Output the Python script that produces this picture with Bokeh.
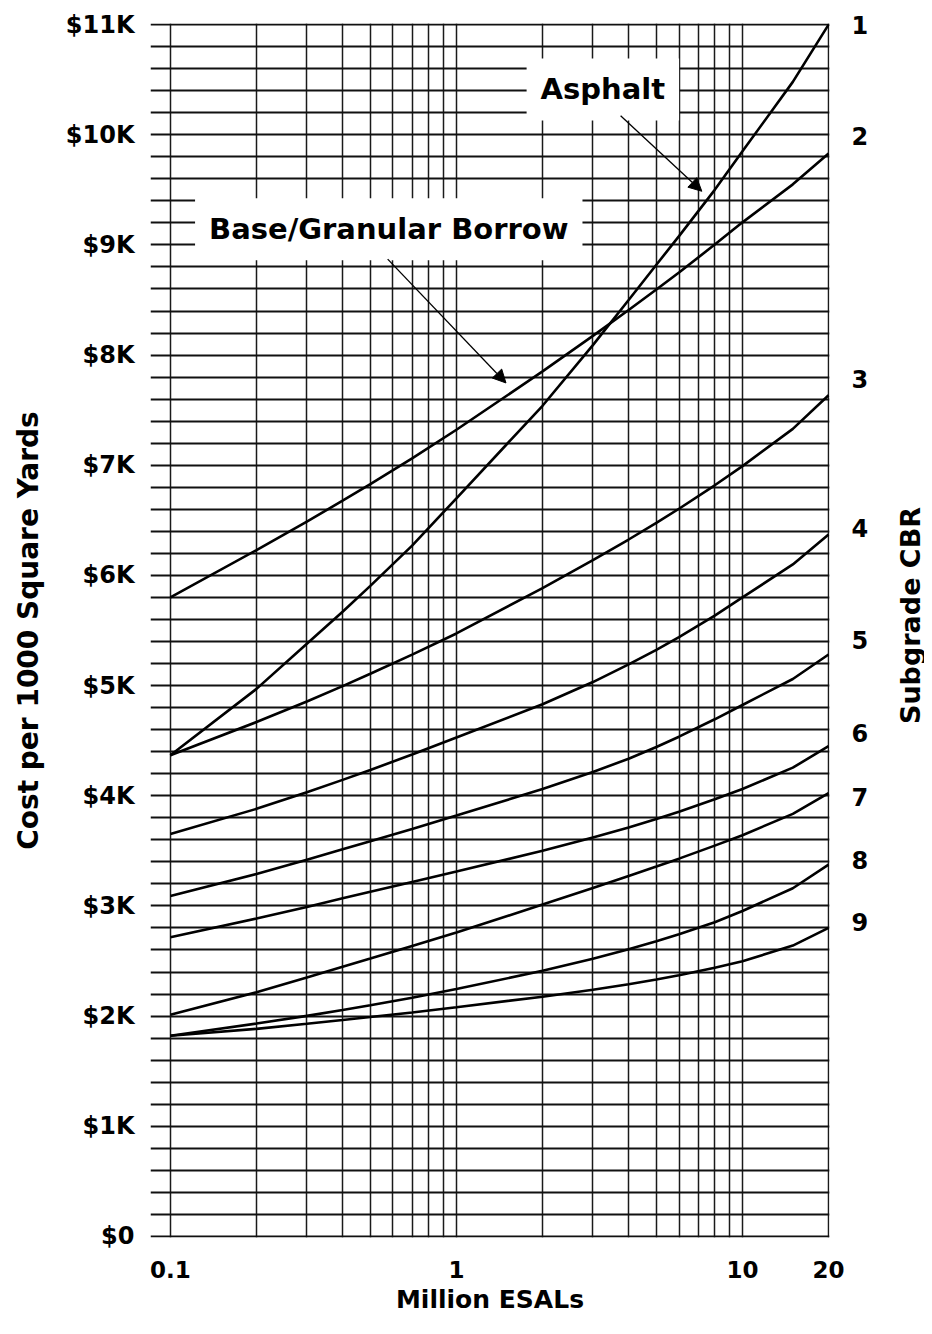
import math
from bokeh.plotting import figure
from bokeh.layouts import row
from bokeh.models import Range1d, FixedTicker, LinearAxis, Label, Arrow, NormalHead
from bokeh.embed import file_html
from bokeh.resources import INLINE

# ---------------- data ----------------
esals = [0.1, 0.2, 0.3, 0.4, 0.5, 0.7, 1, 2, 3, 4, 5, 6, 8, 10, 15, 20]

cbr1 = [4368, 4970, 5380, 5670, 5905, 6270, 6700, 7540, 8090, 8500, 8820, 9080, 9500, 9850, 10480, 11000]
cbr2 = [5800, 6230, 6489, 6678, 6828, 7062, 7322, 7852, 8174, 8409, 8595, 8750, 9003, 9205, 9550, 9830]
cbr3 = [4368, 4669, 4856, 4995, 5107, 5281, 5473, 5885, 6138, 6326, 6477, 6605, 6818, 6992, 7330, 7635]
cbr4 = [3652, 3881, 4031, 4144, 4234, 4374, 4529, 4830, 5032, 5192, 5325, 5440, 5635, 5800, 6100, 6372]
cbr5 = [3090, 3289, 3419, 3514, 3588, 3699, 3820, 4061, 4216, 4336, 4443, 4536, 4694, 4824, 5060, 5282]
cbr6 = [2716, 2885, 2991, 3069, 3129, 3218, 3313, 3500, 3620, 3712, 3789, 3855, 3968, 4061, 4255, 4450]
cbr7 = [2012, 2217, 2351, 2447, 2522, 2637, 2759, 3012, 3162, 3271, 3357, 3429, 3547, 3642, 3835, 4024]
cbr8 = [1821, 1932, 2002, 2055, 2098, 2167, 2245, 2411, 2520, 2606, 2679, 2742, 2852, 2954, 3160, 3375]
cbr9 = [1821, 1884, 1930, 1964, 1991, 2033, 2080, 2176, 2239, 2289, 2332, 2370, 2438, 2498, 2640, 2800]

y_ticks = [0, 1000, 2000, 3000, 4000, 5000, 6000, 7000, 8000, 9000, 10000, 11000]
y_tick_labels = ["$0", "$1K", "$2K", "$3K", "$4K", "$5K", "$6K", "$7K", "$8K", "$9K", "$10K", "$11K"]
y_minor_ticks = [v for v in range(0, 11001, 200) if v % 1000 != 0]

x_ticks = [0.1, 1, 10, 20]
x_tick_labels = ["0.1", "1", "10", "20"]
x_minor_ticks = [0.2, 0.3, 0.4, 0.5, 0.6, 0.7, 0.8, 0.9, 2, 3, 4, 5, 6, 7, 8, 9]

cbr_names = ["1", "2", "3", "4", "5", "6", "7", "8", "9"]
cbr_label_y = [11000, 9985, 7784, 6434, 5410, 4567, 3987, 3416, 2854]

FONT = "DejaVu Sans"
Y_RANGE = (-10, 11010)

p = figure(width=895, height=1318, x_axis_type="log",
           x_range=Range1d(0.0852, 20.15), y_range=Range1d(*Y_RANGE),
           output_backend="svg", toolbar_location=None,
           min_border_left=150, min_border_right=66,
           min_border_top=23, min_border_bottom=81,
           x_axis_label="Million ESALs",
           y_axis_label="Cost per 1000 Square Yards")
p.outline_line_color = None
p.background_fill_color = "white"
p.border_fill_color = "white"

# x axis
xa = p.xaxis[0]
xa.ticker = FixedTicker(ticks=x_ticks, minor_ticks=x_minor_ticks)
xa.major_label_overrides = {t: l for t, l in zip(x_ticks, x_tick_labels)}
xa.axis_line_color = None
xa.major_tick_line_color = None
xa.minor_tick_line_color = None
xa.major_label_standoff = 17
xa.major_label_text_font = FONT
xa.major_label_text_font_style = "bold"
xa.major_label_text_font_size = "23px"
xa.major_label_text_color = "black"
xa.axis_label_standoff = 4
xa.axis_label_text_font = FONT
xa.axis_label_text_font_style = "bold"
xa.axis_label_text_font_size = "25px"
xa.axis_label_text_color = "black"

# y axis
ya = p.yaxis[0]
ya.ticker = FixedTicker(ticks=y_ticks, minor_ticks=y_minor_ticks)
ya.major_label_overrides = {t: l for t, l in zip(y_ticks, y_tick_labels)}
ya.axis_line_color = None
ya.major_tick_line_color = None
ya.minor_tick_line_color = None
ya.major_label_standoff = 10
ya.major_label_text_font = FONT
ya.major_label_text_font_style = "bold"
ya.major_label_text_font_size = "24px"
ya.major_label_text_color = "black"
ya.axis_label_standoff = 18
ya.axis_label_text_font = FONT
ya.axis_label_text_font_style = "bold"
ya.axis_label_text_font_size = "28px"
ya.axis_label_text_color = "black"

# grids
p.xgrid.grid_line_color = "#1a1a1a"
p.xgrid.grid_line_width = 1.5
p.xgrid.minor_grid_line_color = "#1a1a1a"
p.xgrid.minor_grid_line_width = 1.5
p.ygrid.grid_line_color = "#111111"
p.ygrid.grid_line_width = 2
p.ygrid.minor_grid_line_color = "#111111"
p.ygrid.minor_grid_line_width = 2

# right axis: subgrade CBR numbers
ra = LinearAxis(ticker=FixedTicker(ticks=cbr_label_y),
                major_label_overrides={t: l for t, l in zip(cbr_label_y, cbr_names)})
ra.axis_line_color = None
ra.major_tick_line_color = None
ra.minor_tick_line_color = None
ra.major_label_standoff = 16
ra.major_label_text_font = FONT
ra.major_label_text_font_style = "bold"
ra.major_label_text_font_size = "24px"
ra.major_label_text_color = "black"
p.add_layout(ra, "right")

# curves
for series in [cbr1, cbr2, cbr3, cbr4, cbr5, cbr6, cbr7, cbr8, cbr9]:
    p.line(esals, series, line_color="black", line_width=2.6)

# callouts
for txt, x, y in [("Asphalt", 3.25, 10411), ("Base/Granular Borrow", 0.58, 9143)]:
    p.add_layout(Label(x=x, y=y, text=txt, text_align="center", text_baseline="middle",
                       text_font=FONT, text_font_style="bold", text_font_size="29px",
                       text_color="black", background_fill_color="white", padding=14))

p.add_layout(Arrow(end=NormalHead(size=13, fill_color="black", line_color="black"),
                   x_start=3.75, y_start=10173, x_end=7.21, y_end=9487,
                   line_color="black", line_width=1.3))
p.add_layout(Arrow(end=NormalHead(size=13, fill_color="black", line_color="black"),
                   x_start=0.575, y_start=8871, x_end=1.49, y_end=7747,
                   line_color="black", line_width=1.3))

# right-hand title strip: "Subgrade CBR" reading bottom-to-top
s = figure(width=29, height=1318, x_range=Range1d(0, 1), y_range=Range1d(*Y_RANGE),
           output_backend="svg", toolbar_location=None,
           min_border_left=0, min_border_right=0,
           min_border_top=23, min_border_bottom=81)
s.axis.visible = False
s.grid.visible = False
s.outline_line_color = None
s.background_fill_color = "white"
s.border_fill_color = "white"
s.add_layout(Label(x=0.5, y=5636, text="Subgrade CBR", angle=math.pi / 2,
                   text_align="center", text_baseline="middle", text_font=FONT,
                   text_font_style="bold", text_font_size="27px", text_color="black"))

layout = row(p, s)
open("out.html", "w").write(file_html(layout, INLINE))
